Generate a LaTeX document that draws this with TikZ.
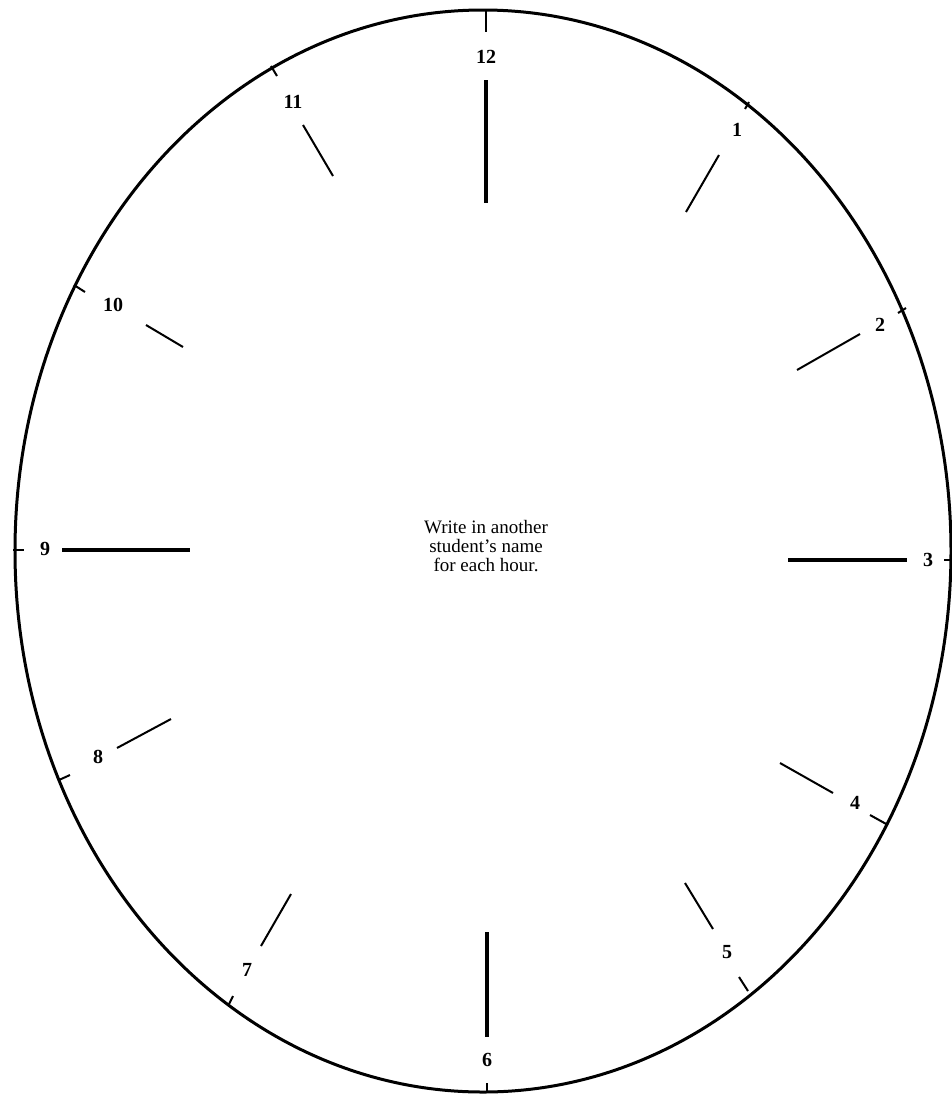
\documentclass[tikz,border=0pt]{standalone}
\usepackage{fontspec}
\setmainfont{Liberation Serif}
\begin{document}
\begin{tikzpicture}[x=1pt,y=-1pt,
  rim/.style={line width=3pt},
  majortick/.style={line width=3.5pt},
  minortick/.style={line width=2pt},
  edgetick/.style={line width=2pt},
  hourlabel/.style={font=\fontsize{20}{24}\selectfont\bfseries, inner sep=0pt}]
\useasboundingbox (0,0) rectangle (951,1095);
\fill[white] (0,0) rectangle (951,1095);
% rim
\coordinate (c) at (483,551);
\draw[rim] (c) ellipse [x radius=468, y radius=541];
% outer ticks on the rim
\draw[edgetick] (486,10) -- (486,32);
\draw[edgetick] (749,102) -- (745,109);
\draw[edgetick] (906,308) -- (898,313);
\draw[edgetick] (951,560) -- (944,560);
\draw[edgetick] (888,825) -- (870,815);
\draw[edgetick] (748,991) -- (739,977);
\draw[edgetick] (487,1093) -- (487,1083);
\draw[edgetick] (229,1004) -- (233,996);
\draw[edgetick] (59,780) -- (70,775);
\draw[edgetick] (13,550) -- (24,550);
\draw[edgetick] (74,285) -- (85,292);
\draw[edgetick] (271,66) -- (277,76);
% inner hour marks
\draw[majortick] (486,80) -- (486,203);
\draw[minortick] (719,155) -- (686,212);
\draw[minortick] (860,334) -- (797,370);
\draw[majortick] (788,560) -- (907,560);
\draw[minortick] (780,763) -- (833,793);
\draw[minortick] (685,883) -- (713,929);
\draw[majortick] (487,932) -- (487,1037);
\draw[minortick] (291,894) -- (261,946);
\draw[minortick] (171,719) -- (117,748);
\draw[majortick] (62,550) -- (190,550);
\draw[minortick] (146,325) -- (183,347);
\draw[minortick] (303,125) -- (333,176);
% hour labels
\node[hourlabel] (h12) at (486,57) {12};
\node[hourlabel] (h1) at (737,130) {1};
\node[hourlabel] (h2) at (880,325) {2};
\node[hourlabel] (h3) at (928,560) {3};
\node[hourlabel] (h4) at (855,803) {4};
\node[hourlabel] (h5) at (727,952) {5};
\node[hourlabel] (h6) at (487,1060) {6};
\node[hourlabel] (h7) at (247,970) {7};
\node[hourlabel] (h8) at (98,757) {8};
\node[hourlabel] (h9) at (45,549) {9};
\node[hourlabel] (h10) at (113,305) {10};
\node[hourlabel] (h11) at (293,102) {11};
% center text
\node[align=center, font=\fontsize{19}{19}\selectfont, inner sep=0pt] (msg) at (486,546)
  {Write in another\\student’s name\\for each hour.};
\end{tikzpicture}
\end{document}
